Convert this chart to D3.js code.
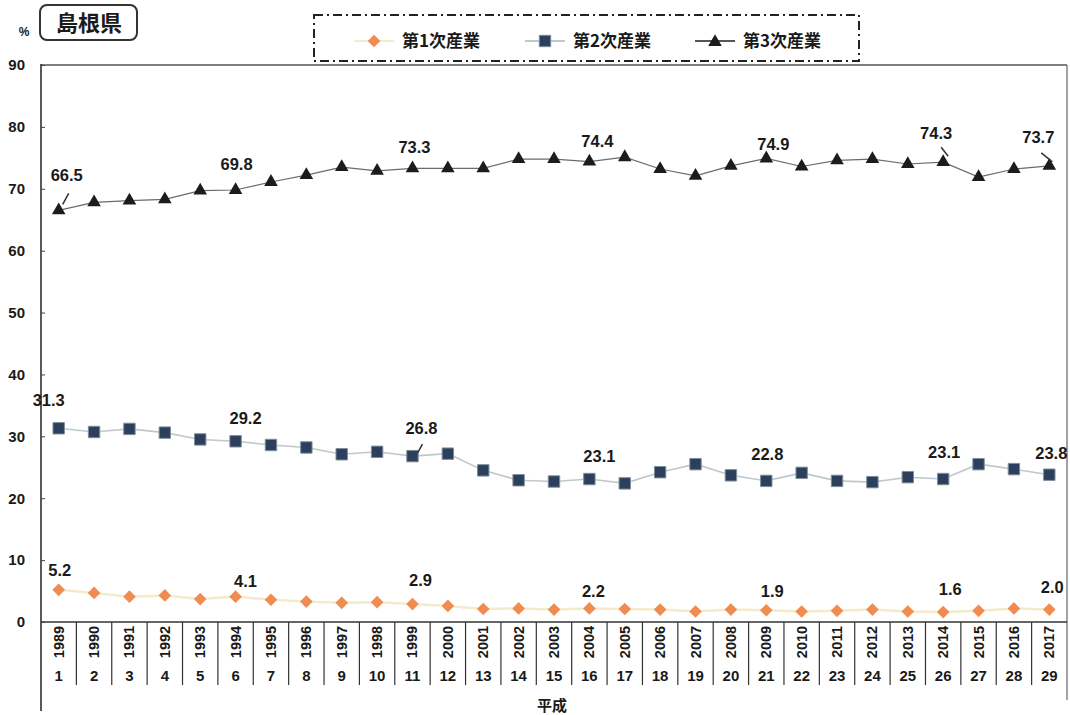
<!DOCTYPE html>
<html lang="ja">
<head>
<meta charset="utf-8">
<title>島根県 産業別構成比</title>
<script src="https://cdn.jsdelivr.net/npm/d3@7/dist/d3.min.js"></script>
<style>
	body { margin: 0; background: #fff; }
	svg { display: block; }
	text { font-family: "Liberation Sans", Arial, sans-serif; fill: #1a1a1a; }
	.jp { font-family: "Noto Sans CJK JP", "Noto Sans", sans-serif; font-weight: bold; }
</style>
</head>
<body>
<script>
// 年 (西暦) と 平成
var years = [1989, 1990, 1991, 1992, 1993, 1994, 1995, 1996, 1997, 1998,
	1999, 2000, 2001, 2002, 2003, 2004, 2005, 2006, 2007, 2008,
	2009, 2010, 2011, 2012, 2013, 2014, 2015, 2016, 2017];
var heisei = [1, 2, 3, 4, 5, 6, 7, 8, 9, 10, 11, 12, 13, 14, 15, 16, 17, 18, 19, 20,
	21, 22, 23, 24, 25, 26, 27, 28, 29];

// 第1次・第2次・第3次産業 (%)
var primary = [5.2, 4.7, 4.1, 4.3, 3.7, 4.1, 3.6, 3.3, 3.1, 3.2,
	2.9, 2.6, 2.1, 2.2, 2.0, 2.2, 2.1, 2.0, 1.7, 2.0,
	1.9, 1.7, 1.8, 2.0, 1.7, 1.6, 1.8, 2.2, 2.0];
var secondary = [31.3, 30.7, 31.2, 30.6, 29.5, 29.2, 28.6, 28.2, 27.1, 27.5,
	26.8, 27.2, 24.5, 22.9, 22.7, 23.1, 22.4, 24.2, 25.5, 23.7,
	22.8, 24.1, 22.8, 22.6, 23.4, 23.1, 25.5, 24.7, 23.8];
var tertiary = [66.5, 67.8, 68.1, 68.3, 69.7, 69.8, 71.1, 72.2, 73.5, 72.9,
	73.3, 73.3, 73.3, 74.8, 74.8, 74.4, 75.1, 73.2, 72.1, 73.7,
	74.9, 73.6, 74.6, 74.8, 74.0, 74.3, 71.9, 73.2, 73.7];

// 数値ラベルを付ける年のインデックス
var labelIdx = [0, 5, 10, 15, 20, 25, 28];
var yTicks = [0, 10, 20, 30, 40, 50, 60, 70, 80, 90];

var w = 1070, h = 715;
var plotLeft = 41, plotRight = 1067, plotTop = 65, zero = 622;

var svg = d3.select("body").append("svg")
	.attr("width", w)
	.attr("height", h);

var x = d3.scaleBand().domain(years).range([plotLeft, plotRight]);
var y = d3.scaleLinear().domain([0, 90]).range([zero, plotTop]);
function cx(d, i) { return x(years[i]) + x.bandwidth() / 2; }

// 枠
svg.append("line").attr("x1", plotLeft).attr("x2", plotRight).attr("y1", plotTop).attr("y2", plotTop)
	.attr("stroke", "#555").attr("stroke-width", 1.5);
svg.append("line").attr("x1", plotRight).attr("x2", plotRight).attr("y1", plotTop).attr("y2", 700)
	.attr("stroke", "#666").attr("stroke-width", 1.2);
svg.append("line").attr("x1", plotLeft).attr("x2", plotLeft).attr("y1", plotTop - 1).attr("y2", 711)
	.attr("stroke", "#222").attr("stroke-width", 1.5);
svg.append("line").attr("x1", plotLeft).attr("x2", plotRight).attr("y1", zero).attr("y2", zero)
	.attr("stroke", "#333").attr("stroke-width", 1.5);

// y軸
var yAxis = svg.append("g")
	.attr("transform", "translate(" + plotLeft + ",0)")
	.call(d3.axisLeft(y).tickValues(yTicks).tickSizeInner(-4).tickSizeOuter(0).tickPadding(16));
yAxis.select(".domain").remove();
yAxis.selectAll("line").attr("stroke", "#444");
yAxis.selectAll("text")
	.attr("font-size", "15px")
	.attr("font-weight", "bold")
	.attr("font-family", "Liberation Sans, Arial, sans-serif")
	.attr("fill", "#1a1a1a");

svg.append("text").attr("x", 24).attr("y", 36).attr("text-anchor", "middle")
	.attr("font-size", "12px").attr("font-weight", "bold").text("%");

// x軸の区切りと年ラベル
svg.selectAll("line.sep")
	.data(years.slice(1))
	.enter()
	.append("line")
	.attr("class", "sep")
	.attr("x1", function(d) { return x(d); })
	.attr("x2", function(d) { return x(d); })
	.attr("y1", zero)
	.attr("y2", 685)
	.attr("stroke", "#333")
	.attr("stroke-width", 1.2);

svg.selectAll("text.year")
	.data(years)
	.enter()
	.append("text")
	.attr("class", "year")
	.attr("transform", function(d, i) { return "translate(" + (cx(d, i) + 5) + ",642) rotate(-90)"; })
	.attr("text-anchor", "middle")
	.attr("font-size", "14.5px")
	.attr("font-weight", "bold")
	.text(function(d) { return d; });

svg.selectAll("text.heisei")
	.data(heisei)
	.enter()
	.append("text")
	.attr("class", "heisei")
	.attr("x", cx)
	.attr("y", 681)
	.attr("text-anchor", "middle")
	.attr("font-size", "15px")
	.attr("font-weight", "bold")
	.text(function(d) { return d; });

svg.append("text").attr("class", "jp").attr("x", 552).attr("y", 711)
	.attr("text-anchor", "middle").attr("font-size", "15px").text("平成");

// 折れ線
var line = d3.line().x(cx).y(function(d) { return y(d); });

svg.append("path").datum(primary).attr("d", line)
	.attr("fill", "none").attr("stroke", "#f3eccb").attr("stroke-width", 2.5);
svg.append("path").datum(secondary).attr("d", line)
	.attr("fill", "none").attr("stroke", "#bfc9cc").attr("stroke-width", 1.6);
svg.append("path").datum(tertiary).attr("d", line)
	.attr("fill", "none").attr("stroke", "#6b6b6b").attr("stroke-width", 1.2);

// マーカー
var diamond = d3.symbol(d3.symbolSquare, 80)();
var square = d3.symbol(d3.symbolSquare, 130)();
var triangle = d3.symbol(d3.symbolTriangle, 80)();

svg.selectAll("path.p1")
	.data(primary)
	.enter()
	.append("path")
	.attr("class", "p1")
	.attr("d", diamond)
	.attr("transform", function(d, i) { return "translate(" + cx(d, i) + "," + y(d) + ") rotate(45)"; })
	.attr("fill", "#f08c50");

svg.selectAll("path.p2")
	.data(secondary)
	.enter()
	.append("path")
	.attr("class", "p2")
	.attr("d", square)
	.attr("transform", function(d, i) { return "translate(" + cx(d, i) + "," + y(d) + ")"; })
	.attr("fill", "#2c3f5c")
	.attr("stroke", "#7f8e9b")
	.attr("stroke-width", 1);

svg.selectAll("path.p3")
	.data(tertiary)
	.enter()
	.append("path")
	.attr("class", "p3")
	.attr("d", triangle)
	.attr("transform", function(d, i) { return "translate(" + cx(d, i) + "," + y(d) + ")"; })
	.attr("fill", "#1c1c1c");

// 数値ラベル (マーカーからのずれ)
var offsets = {
	p1: [[1, -20], [10, -16], [8, -24], [4, -17], [6, -19], [7, -23], [3, -23]],
	p2: [[-10, -28], [10, -23], [9, -28], [10, -23], [1, -27], [1, -27], [2, -22]],
	p3: [[8, -35], [1, -26], [2, -21], [8, -21], [7, -14], [-7, -29], [-11, -29]]
};
var series = [["p1", primary], ["p2", secondary], ["p3", tertiary]];
series.forEach(function(s) {
	svg.selectAll("text.v" + s[0])
		.data(labelIdx)
		.enter()
		.append("text")
		.attr("class", "v" + s[0])
		.attr("x", function(i, k) { return cx(null, i) + offsets[s[0]][k][0]; })
		.attr("y", function(i, k) { return y(s[1][i]) + offsets[s[0]][k][1] + 6; })
		.attr("text-anchor", "middle")
		.attr("font-size", "16.5px")
		.attr("font-weight", "bold")
		.text(function(i) { return s[1][i].toFixed(1); });
});

// 引き出し線
var leaders = [
	[tertiary, 0, [10, -17], [4, -6]],
	[secondary, 10, [10, -12], [5, -3]],
	[tertiary, 25, [-2, -15], [5, -6]],
	[tertiary, 28, [-8, -13], [3, -4]]
];
svg.selectAll("line.leader")
	.data(leaders)
	.enter()
	.append("line")
	.attr("class", "leader")
	.attr("x1", function(d) { return cx(null, d[1]) + d[2][0]; })
	.attr("y1", function(d) { return y(d[0][d[1]]) + d[2][1]; })
	.attr("x2", function(d) { return cx(null, d[1]) + d[3][0]; })
	.attr("y2", function(d) { return y(d[0][d[1]]) + d[3][1]; })
	.attr("stroke", "#333")
	.attr("stroke-width", 1.5);

// タイトル
svg.append("rect").attr("x", 40).attr("y", 5).attr("width", 97).attr("height", 35)
	.attr("rx", 7).attr("fill", "#fff").attr("stroke", "#333").attr("stroke-width", 2);
svg.append("text").attr("class", "jp").attr("x", 89).attr("y", 31)
	.attr("text-anchor", "middle").attr("font-size", "22px").text("島根県");

// 凡例
svg.append("rect").attr("x", 314).attr("y", 15).attr("width", 545).attr("height", 46)
	.attr("fill", "none").attr("stroke", "#222").attr("stroke-width", 2)
	.attr("stroke-dasharray", "9,4,2,4");

var legendNames = ["第1次産業", "第2次産業", "第3次産業"];
var legendX = [374, 545, 715];
var legendLine = ["#f3eccb", "#bfc9cc", "#1c1c1c"];

svg.selectAll("line.lg")
	.data(legendNames)
	.enter()
	.append("line")
	.attr("class", "lg")
	.attr("x1", function(d, i) { return legendX[i] - 20; })
	.attr("x2", function(d, i) { return legendX[i] + 20; })
	.attr("y1", 41).attr("y2", 41)
	.attr("stroke", function(d, i) { return legendLine[i]; })
	.attr("stroke-width", function(d, i) { return i === 2 ? 1.5 : 2; });

svg.append("path").attr("d", diamond)
	.attr("transform", "translate(" + legendX[0] + ",41) rotate(45)").attr("fill", "#f08c50");
svg.append("path").attr("d", square)
	.attr("transform", "translate(" + legendX[1] + ",41)")
	.attr("fill", "#2c3f5c").attr("stroke", "#7f8e9b");
svg.append("path").attr("d", triangle)
	.attr("transform", "translate(" + legendX[2] + ",42)").attr("fill", "#1c1c1c");

svg.selectAll("text.lg")
	.data(legendNames)
	.enter()
	.append("text")
	.attr("class", "lg jp")
	.attr("x", function(d, i) { return legendX[i] + 28; })
	.attr("y", 47)
	.attr("font-size", "17px")
	.text(function(d) { return d; });
</script>
</body>
</html>
